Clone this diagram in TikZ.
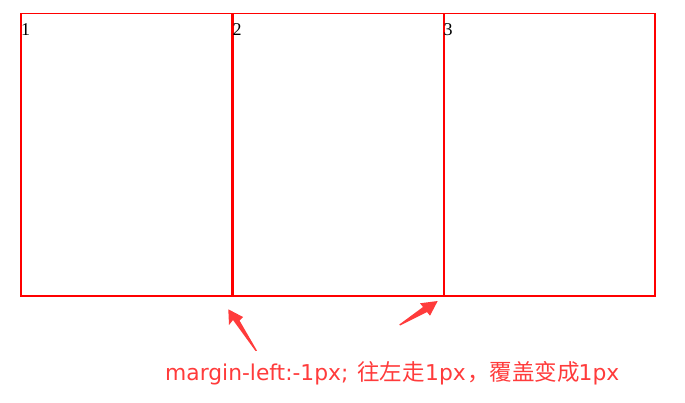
\documentclass[tikz,border=0pt]{standalone}
\usepackage{fontspec}
\setmainfont{Liberation Serif}
\newfontfamily\cjk{Noto Sans CJK SC}
\newfontfamily\lat{DejaVu Sans}
\definecolor{boxred}{HTML}{FF0000}
\definecolor{notered}{HTML}{FF3B3B}
\begin{document}
\begin{tikzpicture}[x=1pt,y=-1pt,
  cell/.style={draw=boxred,line width=1.5pt,minimum width=211pt,minimum height=282pt,anchor=north west,inner sep=0pt},
  num/.style={anchor=base west,inner sep=0pt,font=\fontsize{18}{18}\selectfont},
  note/.style={text=notered,font=\lat\fontsize{21.8}{23}\selectfont,inner sep=0pt,anchor=base west},
  notecjk/.style={note,font=\cjk\fontsize{22.5}{23}\selectfont},
  arrowshape/.style={fill=notered,draw=none}]
\useasboundingbox (0,0) rectangle (685,403);
\node[cell] (b1) at (20,13) {};
\node[cell] (b2) at (232,13) {};
\node[cell] (b3) at (443,13) {};
\node[num] (n1) at ([xshift=1pt,yshift=-22.5pt]b1.north west) {1};
\node[num] (n2) at ([xshift=0.5pt,yshift=-22.5pt]b2.north west) {2};
\node[num] (n3) at ([xshift=0.5pt,yshift=-22.5pt]b3.north west) {3};
\node[note] (t1) at (165,380.5) {margin-left:-1px;};
\node[notecjk] (t2) at (357,380.5) {往左走};
\node[note] (t3) at (425,380.5) {1px};
\node[notecjk] (t4) at (467,380.5) {，覆盖变成};
\node[note] (t5) at (578.5,380.5) {1px};
% arrow 1
\fill[arrowshape] (228.3,309.3) -- (243,317) -- (239.5,320.5) -- (257,350.7) -- (255.5,351) -- (233,320) -- (229,325) -- cycle;
% arrow 2
\fill[arrowshape] (437.7,301) -- (430,315.7) -- (427,312) -- (400,325.5) -- (399.3,324.5) -- (423,307) -- (420,303.3) -- cycle;
\end{tikzpicture}
\end{document}
